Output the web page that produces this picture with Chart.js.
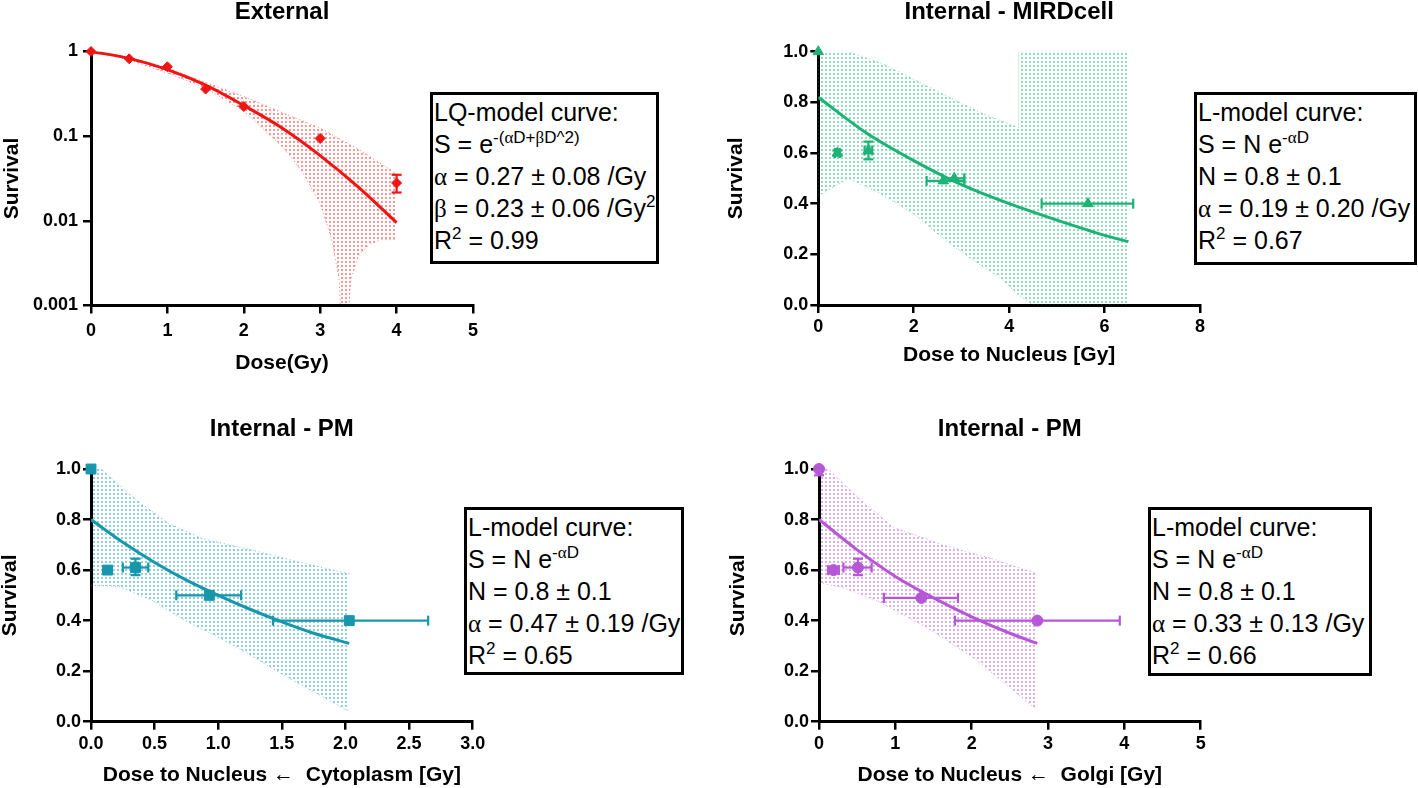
<!DOCTYPE html>
<html><head><meta charset="utf-8">
<script src="https://cdn.jsdelivr.net/npm/chart.js@4.4.1/dist/chart.umd.min.js"></script>
<style>
html,body{margin:0;padding:0;background:#fff;}
body{width:1418px;height:788px;position:relative;overflow:hidden;font-family:"Liberation Sans",Arial,sans-serif;}
canvas.panel{position:absolute;}
.box{position:absolute;box-sizing:border-box;border:3px solid #000;background:#fff;padding:1px 0 0 1px;font-size:25px;color:#000;}
.box div{height:32px;line-height:32px;white-space:nowrap;}
.box sup{font-size:17px;position:relative;top:-10px;vertical-align:baseline;line-height:0;}
.g{font-family:"Liberation Serif","Times New Roman",serif;}
</style></head><body>
<canvas id="c1" class="panel" style="left:0;top:0" width="500" height="390"></canvas>
<canvas id="c2" class="panel" style="left:720px;top:0" width="500" height="390"></canvas>
<canvas id="c3" class="panel" style="left:0;top:400px" width="500" height="388"></canvas>
<canvas id="c4" class="panel" style="left:720px;top:400px" width="500" height="388"></canvas>

<div class="box" style="left:430px;top:92px;width:229px;height:172px">
<div>LQ-model curve:</div>
<div>S = e<sup>-(<span class="g">α</span>D+<span class="g">β</span>D^2)</sup></div>
<div><span class="g">α</span> = 0.27 ± 0.08 /Gy</div>
<div><span class="g">β</span> = 0.23 ± 0.06 /Gy<sup>2</sup></div>
<div>R<sup>2</sup> = 0.99</div>
</div>
<div class="box" style="left:1194px;top:92px;width:223px;height:173px">
<div>L-model curve:</div>
<div>S = N e<sup>-<span class="g">α</span>D</sup></div>
<div>N = 0.8 ± 0.1</div>
<div><span class="g">α</span> = 0.19 ± 0.20 /Gy</div>
<div>R<sup>2</sup> = 0.67</div>
</div>
<div class="box" style="left:464px;top:507px;width:220px;height:168px">
<div>L-model curve:</div>
<div>S = N e<sup>-<span class="g">α</span>D</sup></div>
<div>N = 0.8 ± 0.1</div>
<div><span class="g">α</span> = 0.47 ± 0.19 /Gy</div>
<div>R<sup>2</sup> = 0.65</div>
</div>
<div class="box" style="left:1148px;top:507px;width:224px;height:169px">
<div>L-model curve:</div>
<div>S = N e<sup>-<span class="g">α</span>D</sup></div>
<div>N = 0.8 ± 0.1</div>
<div><span class="g">α</span> = 0.33 ± 0.13 /Gy</div>
<div>R<sup>2</sup> = 0.66</div>
</div>

<script>
// ---------- Panel 1: External (log survival) ----------
const extDose   = [0, 0.5, 1, 1.5, 2, 3, 4];
const extSurv   = [1.0, 0.82, 0.66, 0.36, 0.224, 0.094, 0.028];
const extXLow   = [null, null, null, null, null, null, null];
const extXHigh  = [null, null, null, null, null, null, null];
const extYLow   = [null, null, null, null, null, null, 0.0216];
const extYHigh  = [null, null, null, null, null, null, 0.035];
const extFitDose = [0, 0.5, 1, 1.5, 2, 2.5, 3, 3.5, 4];
const extFitSurv = [1.0, 0.83, 0.61, 0.40, 0.23, 0.125, 0.059, 0.025, 0.0095];
const extUpDose  = [0, 0.5, 1, 1.5, 2, 2.5, 3, 3.5, 4];
const extUpSurv  = [1.0, 0.85, 0.64, 0.43, 0.295, 0.19, 0.125, 0.07, 0.036];
const extLoDose  = [0, 0.5, 1, 1.5, 2, 2.5, 2.75, 3, 3.15, 3.25, 3.3, 3.4, 3.5, 3.65, 3.8, 4];
const extLoSurv  = [1.0, 0.80, 0.555, 0.37, 0.197, 0.076, 0.040, 0.016, 0.006, 0.002, 0.0001, 0.002, 0.0039, 0.0053, 0.006, 0.006];
const extXTicks = [0, 1, 2, 3, 4, 5];
const extXTickLabels = ['0', '1', '2', '3', '4', '5'];
const extYTicks = [0.001, 0.01, 0.1, 1];
const extYTickLabels = ['0.001', '0.01', '0.1', '1'];

// ---------- Panel 2: Internal - MIRDcell ----------
const mirdDose  = [0, 0.40, 1.05, 2.62, 2.85, 5.65];
const mirdSurv  = [1.0, 0.60, 0.61, 0.49, 0.50, 0.40];
const mirdXLow  = [null, 0.35, 0.97, 2.27, 2.60, 4.68];
const mirdXHigh = [null, 0.45, 1.13, 3.06, 3.06, 6.60];
const mirdYLow  = [null, 0.59, 0.575, null, null, null];
const mirdYHigh = [null, 0.61, 0.645, null, null, null];
const mirdFitDose = [0, 1, 2, 3, 4, 5, 6, 6.5];
const mirdFitSurv = [0.82, 0.68, 0.57, 0.475, 0.40, 0.335, 0.275, 0.25];
const mirdUpDose  = [0, 0.63, 1.33, 2.03, 2.73, 3.43, 4.2, 4.2, 6.5];
const mirdUpSurv  = [1.0, 1.0, 0.954, 0.888, 0.822, 0.757, 0.70, 1.0, 1.0];
const mirdLoDose  = [0, 0.63, 1.3, 2.0, 2.7, 3.3, 3.8, 4.2, 4.5, 6.5];
const mirdLoSurv  = [0.43, 0.50, 0.44, 0.36, 0.25, 0.17, 0.11, 0.04, 0.0, 0.0];
const mirdXTicks = [0, 2, 4, 6, 8];
const mirdXTickLabels = ['0', '2', '4', '6', '8'];

// ---------- Panel 3: Internal - PM (Cytoplasm) ----------
const cytoDose  = [0, 0.13, 0.35, 0.93, 2.03];
const cytoSurv  = [1.0, 0.60, 0.61, 0.50, 0.40];
const cytoXLow  = [null, null, 0.25, 0.67, 1.43];
const cytoXHigh = [null, null, 0.45, 1.18, 2.65];
const cytoYLow  = [null, null, 0.58, null, null];
const cytoYHigh = [null, null, 0.645, null, null];
const cytoFitDose = [0, 0.25, 0.5, 0.75, 1, 1.25, 1.5, 1.75, 2.03];
const cytoFitSurv = [0.80, 0.71, 0.63, 0.56, 0.50, 0.445, 0.395, 0.35, 0.31];
const cytoUpDose  = [0, 0.08, 0.35, 0.61, 0.87, 1.26, 1.65, 2.03];
const cytoUpSurv  = [1.0, 1.0, 0.88, 0.785, 0.725, 0.68, 0.63, 0.585];
const cytoLoDose  = [0, 0.22, 0.48, 0.74, 1.13, 1.53, 2.03];
const cytoLoSurv  = [0.54, 0.535, 0.48, 0.40, 0.30, 0.18, 0.04];
const cytoXTicks = [0, 0.5, 1, 1.5, 2, 2.5, 3];
const cytoXTickLabels = ['0.0', '0.5', '1.0', '1.5', '2.0', '2.5', '3.0'];

// ---------- Panel 4: Internal - PM (Golgi) ----------
const golgiDose  = [0, 0.19, 0.51, 1.34, 2.86];
const golgiSurv  = [1.0, 0.60, 0.61, 0.49, 0.40];
const golgiXLow  = [null, 0.12, 0.32, 0.85, 1.78];
const golgiXHigh = [null, 0.26, 0.69, 1.82, 3.94];
const golgiYLow  = [0.975, null, 0.58, null, null];
const golgiYHigh = [null, null, 0.645, null, null];
const golgiFitDose = [0, 0.5, 1, 1.5, 2, 2.5, 2.86];
const golgiFitSurv = [0.80, 0.68, 0.575, 0.49, 0.415, 0.35, 0.31];
const golgiUpDose  = [0, 0.12, 0.535, 0.97, 1.62, 2.27, 2.86];
const golgiUpSurv  = [1.0, 1.0, 0.88, 0.77, 0.70, 0.645, 0.585];
const golgiLoDose  = [0, 0.32, 0.75, 1.40, 2.06, 2.86];
const golgiLoSurv  = [0.55, 0.53, 0.48, 0.375, 0.245, 0.045];
const golgiXTicks = [0, 1, 2, 3, 4, 5];
const golgiXTickLabels = ['0', '1', '2', '3', '4', '5'];

const linYTicks = [0, 0.2, 0.4, 0.6, 0.8, 1.0];
const linYTickLabels = ['0.0', '0.2', '0.4', '0.6', '0.8', '1.0'];

// ---------- helpers ----------
const FONT = "'Liberation Sans', Arial, Helvetica, sans-serif";
Chart.defaults.font.family = FONT;
Chart.defaults.font.size = 18;
Chart.defaults.font.weight = 'bold';
Chart.defaults.color = '#000';

function pts(xs, ys) { return xs.map((x, i) => ({ x: x, y: ys[i] })); }
function dotPattern(color) {
  const c = document.createElement('canvas');
  c.width = 4; c.height = 4;
  const g = c.getContext('2d');
  g.fillStyle = color;
  g.fillRect(1, 1, 2, 2);
  return g.createPattern(c, 'repeat');
}
function errorBarSets(xs, ys, xLow, xHigh, yLow, yHigh, color) {
  const sets = [];
  xs.forEach((x, i) => {
    const y = ys[i];
    if (xLow[i] != null || xHigh[i] != null) {
      sets.push({
        data: [{ x: xLow[i] != null ? xLow[i] : x, y: y }, { x: xHigh[i] != null ? xHigh[i] : x, y: y }],
        showLine: true, borderColor: color, borderWidth: 2.2,
        pointStyle: 'line', rotation: 90,
        pointRadius: [xLow[i] != null ? 5 : 0, xHigh[i] != null ? 5 : 0],
        pointBorderWidth: 2.2, pointBorderColor: color, clip: false
      });
    }
    if (yLow[i] != null || yHigh[i] != null) {
      sets.push({
        data: [{ x: x, y: yLow[i] != null ? yLow[i] : y }, { x: x, y: yHigh[i] != null ? yHigh[i] : y }],
        showLine: true, borderColor: color, borderWidth: 2.2,
        pointStyle: 'line', rotation: 0,
        pointRadius: [yLow[i] != null ? 5 : 0, yHigh[i] != null ? 5 : 0],
        pointBorderWidth: 2.2, pointBorderColor: color, clip: false
      });
    }
  });
  return sets;
}

function makeChart(id, c) {
  const datasets = [];
  datasets.push({
    label: 'data', data: pts(c.x, c.y), showLine: false,
    pointStyle: c.marker, pointRadius: c.markerR,
    pointBackgroundColor: c.color, pointBorderColor: c.color, pointBorderWidth: 1, clip: false
  });
  errorBarSets(c.x, c.y, c.xLow, c.xHigh, c.yLow, c.yHigh, c.color).forEach(s => datasets.push(s));
  datasets.push({
    label: 'fit', data: pts(c.fitX, c.fitY), showLine: true, borderColor: c.color,
    borderWidth: 3, pointRadius: 0, cubicInterpolationMode: 'monotone'
  });
  datasets.push({
    label: 'band upper', data: pts(c.upX, c.upY), showLine: true, borderColor: c.bandLine,
    borderWidth: 1, borderDash: [1, 3], pointRadius: 0, fill: '+1',
    backgroundColor: dotPattern(c.bandDot)
  });
  datasets.push({
    label: 'band lower', data: pts(c.loX, c.loY), showLine: true, borderColor: c.bandLine,
    borderWidth: 1, borderDash: [1, 3], pointRadius: 0, fill: false
  });

  const tf = () => ({ family: FONT, size: 18, weight: 'bold' });
  const ttf = () => ({ family: FONT, size: 21, weight: 'bold', lineHeight: 1 });
  const gridOpts = () => ({ drawOnChartArea: false, drawTicks: true, tickLength: 8, color: '#000', lineWidth: 2.5 });
  const borderOpts = () => ({ display: true, color: '#000', width: 3 });

  new Chart(document.getElementById(id), {
    type: 'scatter',
    data: { datasets: datasets },
    options: {
      responsive: false, animation: false, devicePixelRatio: 1, events: [],
      layout: { autoPadding: false, padding: { left: 0, top: c.padTop, right: c.padRight, bottom: 0 } },
      plugins: {
        legend: { display: false }, tooltip: { enabled: false },
        title: {
          display: true, text: c.title, fullSize: false, color: '#000',
          font: { family: FONT, size: 24, weight: 'bold', lineHeight: 1 },
          padding: { top: 0, bottom: c.titlePadB }
        }
      },
      scales: {
        x: {
          type: 'linear', position: 'bottom', min: c.xMin, max: c.xMax,
          afterBuildTicks: s => { s.ticks = c.xTicks.map(v => ({ value: v })); },
          ticks: { callback: (v, i) => c.xTickLabels[i], font: tf(), color: '#000', padding: c.xTickPad, maxRotation: 0, minRotation: 0, autoSkip: false },
          grid: gridOpts(), border: borderOpts(),
          title: { display: true, text: c.xTitle, font: ttf(), color: '#000', padding: { top: 0, bottom: c.xTitlePadB } },
          afterFit: s => { s.height = c.xAxisH; }
        },
        y: {
          type: c.yType, position: 'left', min: c.yMin, max: c.yMax,
          afterBuildTicks: s => { s.ticks = c.yTicks.map(v => ({ value: v })); },
          ticks: { callback: (v, i) => c.yTickLabels[i], font: tf(), color: '#000', padding: c.yTickPad, autoSkip: false },
          grid: gridOpts(), border: borderOpts(),
          title: { display: true, text: 'Survival', font: ttf(), color: '#000', padding: { top: c.yTitlePadT, bottom: 0 } },
          afterFit: s => { s.width = c.yAxisW; }
        }
      }
    }
  });
}

makeChart('c1', {
  title: 'External', color: '#F01414', bandLine: 'rgba(240,20,20,0.55)', bandDot: 'rgba(245,50,50,0.5)', marker: 'rectRot', markerR: 5,
  x: extDose, y: extSurv, xLow: extXLow, xHigh: extXHigh, yLow: extYLow, yHigh: extYHigh,
  fitX: extFitDose, fitY: extFitSurv, upX: extUpDose, upY: extUpSurv, loX: extLoDose, loY: extLoSurv,
  xMin: 0, xMax: 5, xTicks: extXTicks, xTickLabels: extXTickLabels,
  yType: 'logarithmic', yMin: 0.001, yMax: 1, yTicks: extYTicks, yTickLabels: extYTickLabels,
  xTitle: 'Dose(Gy)',
  padTop: 0, titlePadB: 27.5, padRight: 27, yAxisW: 91, xAxisH: 84.5,
  xTickPad: 7.2, xTitlePadB: 16.5, yTitlePadT: 1.5, yTickPad: 5
});

makeChart('c2', {
  title: 'Internal - MIRDcell', color: '#1DB377', bandLine: 'rgba(29,179,119,0.55)', bandDot: 'rgba(40,185,125,0.5)', marker: 'triangle', markerR: 6,
  x: mirdDose, y: mirdSurv, xLow: mirdXLow, xHigh: mirdXHigh, yLow: mirdYLow, yHigh: mirdYHigh,
  fitX: mirdFitDose, fitY: mirdFitSurv, upX: mirdUpDose, upY: mirdUpSurv, loX: mirdLoDose, loY: mirdLoSurv,
  xMin: 0, xMax: 8, xTicks: mirdXTicks, xTickLabels: mirdXTickLabels,
  yType: 'linear', yMin: 0, yMax: 1, yTicks: linYTicks, yTickLabels: linYTickLabels,
  xTitle: 'Dose to Nucleus [Gy]',
  padTop: 0, titlePadB: 27.7, padRight: 20, yAxisW: 98.3, xAxisH: 85,
  xTickPad: 3.5, xTitlePadB: 23.8, yTitlePadT: 6.2, yTickPad: 2
});

makeChart('c3', {
  title: 'Internal - PM', color: '#1797AD', bandLine: 'rgba(23,151,173,0.55)', bandDot: 'rgba(40,160,180,0.5)', marker: 'rect', markerR: 7,
  x: cytoDose, y: cytoSurv, xLow: cytoXLow, xHigh: cytoXHigh, yLow: cytoYLow, yHigh: cytoYHigh,
  fitX: cytoFitDose, fitY: cytoFitSurv, upX: cytoUpDose, upY: cytoUpSurv, loX: cytoLoDose, loY: cytoLoSurv,
  xMin: 0, xMax: 3, xTicks: cytoXTicks, xTickLabels: cytoXTickLabels,
  yType: 'linear', yMin: 0, yMax: 1, yTicks: linYTicks, yTickLabels: linYTickLabels,
  xTitle: 'Dose to Nucleus \u2190  Cytoplasm [Gy]',
  padTop: 17, titlePadB: 28, padRight: 27.3, yAxisW: 91, xAxisH: 66.3,
  xTickPad: 3.5, xTitlePadB: 2.5, yTitlePadT: 0, yTickPad: 2
});

makeChart('c4', {
  title: 'Internal - PM', color: '#B557D6', bandLine: 'rgba(181,87,214,0.55)', bandDot: 'rgba(186,95,216,0.5)', marker: 'circle', markerR: 5.5,
  x: golgiDose, y: golgiSurv, xLow: golgiXLow, xHigh: golgiXHigh, yLow: golgiYLow, yHigh: golgiYHigh,
  fitX: golgiFitDose, fitY: golgiFitSurv, upX: golgiUpDose, upY: golgiUpSurv, loX: golgiLoDose, loY: golgiLoSurv,
  xMin: 0, xMax: 5, xTicks: golgiXTicks, xTickLabels: golgiXTickLabels,
  yType: 'linear', yMin: 0, yMax: 1, yTicks: linYTicks, yTickLabels: linYTickLabels,
  xTitle: 'Dose to Nucleus \u2190  Golgi [Gy]',
  padTop: 17, titlePadB: 28, padRight: 19.3, yAxisW: 99, xAxisH: 66.3,
  xTickPad: 3.5, xTitlePadB: 2.5, yTitlePadT: 7.5, yTickPad: 2
});
</script>
</body></html>
